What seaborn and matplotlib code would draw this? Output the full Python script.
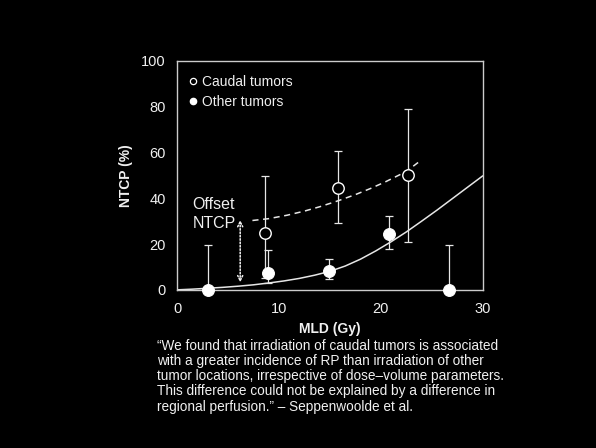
import numpy as np
import pandas as pd
import matplotlib
matplotlib.use("Agg")
import matplotlib.pyplot as plt
import seaborn as sns
from matplotlib.lines import Line2D

# ---- data ----
other_x = [3.0, 8.9, 14.9, 20.8, 26.7]
other_y = [0.0, 7.3, 8.2, 24.2, 0.0]
other_lo = [0.0, 2.9, 4.6, 17.7, 0.0]
other_hi = [19.8, 17.2, 13.6, 32.4, 19.8]

caudal_x = [8.6, 15.8, 22.7]
caudal_y = [24.8, 44.5, 50.0]
caudal_lo = [5.0, 29.3, 21.0]
caudal_hi = [49.8, 60.7, 79.0]

fit_other_x = [0, 1.5, 3, 4.5, 6, 7.5, 9, 10.5, 12, 13.5, 15, 16.5, 18, 19.5, 21, 22.5, 24, 25.5, 27, 28.5, 30]
fit_other_y = [0.0, 0.3, 0.7, 1.1, 1.6, 2.2, 3.0, 3.9, 5.0, 6.4, 8.1, 10.4, 13.4, 17.0, 21.0, 25.3, 30.0, 34.8, 39.8, 44.8, 49.8]

fit_caudal_x = [7.4, 9, 10.8, 12.5, 14, 15.8, 17.5, 19, 20.5, 22, 22.7, 24]
fit_caudal_y = [30.3, 31.1, 32.6, 34.4, 36.3, 38.9, 41.6, 44.3, 47.3, 50.6, 52.4, 56.8]

x_ticks = [0, 10, 20, 30]
y_ticks = [0, 20, 40, 60, 80, 100]

quote = ("\u201cWe found that irradiation of caudal tumors is associated\n"
         "with a greater incidence of RP than irradiation of other\n"
         "tumor locations, irrespective of dose\u2013volume parameters.\n"
         "This difference could not be explained by a difference in\n"
         "regional perfusion.\u201d \u2013 Seppenwoolde et al.")

# ---- style ----
sns.set_style("dark")
plt.rcParams['font.family'] = ['Liberation Sans', 'DejaVu Sans']
fg = "#f0f0f0"
line_c = "#e6e6e6"

fig = plt.figure(figsize=(5.96, 4.48), dpi=100, facecolor="black")
ax = fig.add_axes([0.297, 0.353, 0.513, 0.511])
ax.set_facecolor("black")

df_fit_o = pd.DataFrame({"x": fit_other_x, "y": fit_other_y})
df_fit_c = pd.DataFrame({"x": fit_caudal_x, "y": fit_caudal_y})
sns.lineplot(data=df_fit_o, x="x", y="y", ax=ax, color=line_c, lw=1.1, zorder=2)
sns.lineplot(data=df_fit_c, x="x", y="y", ax=ax, color=line_c, lw=1.1,
             linestyle=(0, (4, 3)), zorder=2)

# error bars
oy = np.array(other_y)
ax.errorbar(other_x, other_y,
            yerr=[oy - np.array(other_lo), np.array(other_hi) - oy],
            fmt="none", ecolor=line_c, elinewidth=0.9, capsize=3, capthick=0.9, zorder=3)
cy = np.array(caudal_y)
ax.errorbar(caudal_x, caudal_y,
            yerr=[cy - np.array(caudal_lo), np.array(caudal_hi) - cy],
            fmt="none", ecolor=line_c, elinewidth=0.9, capsize=3, capthick=0.9, zorder=3)

df_o = pd.DataFrame({"x": other_x, "y": other_y})
df_c = pd.DataFrame({"x": caudal_x, "y": caudal_y})
sns.scatterplot(data=df_o, x="x", y="y", ax=ax, s=72, color="white",
                edgecolor="white", linewidth=0.8, zorder=5, clip_on=False)
sns.scatterplot(data=df_c, x="x", y="y", ax=ax, s=68, facecolor="black",
                edgecolor="white", linewidth=1.0, zorder=5, clip_on=False)

# offset arrow
ax.annotate("", xy=(6.2, 30.5), xytext=(6.2, 3.3),
            arrowprops=dict(arrowstyle="<->", color=fg, lw=1.1, linestyle=(0, (1, 1.2)),
                            shrinkA=0, shrinkB=0, mutation_scale=9))
ax.text(1.5, 37.2, "Offset", color=fg, fontsize=11.5, va="center", ha="left")
ax.text(1.5, 29.0, "NTCP", color=fg, fontsize=11.5, va="center", ha="left")

# legend
handles = [Line2D([], [], marker="o", ls="none", mfc="black", mec="white", ms=4.5, mew=0.9),
           Line2D([], [], marker="o", ls="none", mfc="white", mec="white", ms=4.5)]
leg = ax.legend(handles, ["Caudal tumors", "Other tumors"], loc="upper left",
                bbox_to_anchor=(-0.013, 0.997),
                frameon=False, fontsize=10, handletextpad=0.1, handlelength=1.0,
                borderaxespad=0.55, labelspacing=0.45, labelcolor=fg)

ax.set_xlim(0, 30)
ax.set_ylim(0, 100)
ax.set_xticks(x_ticks)
ax.set_yticks(y_ticks)
ax.set_xticklabels([str(v) for v in x_ticks])
ax.set_yticklabels([str(v) for v in y_ticks])
ax.tick_params(direction="in", length=3, color="#555555", labelcolor=fg,
               labelsize=10.5, pad=9)
ax.tick_params(axis="y", pad=8)
ax.grid(False)
for s in ax.spines.values():
    s.set_visible(True)
    s.set_color("#cccccc")
    s.set_linewidth(1.0)

ax.set_xlabel("MLD (Gy)", color=fg, fontsize=10, fontweight="bold", labelpad=4)
ax.set_ylabel("NTCP (%)", color=fg, fontsize=10, fontweight="bold", labelpad=6)

fig.text(157 / 596, 1 - 338.5 / 448, quote, color=fg, fontsize=9.8, va="top", ha="left",
         linespacing=1.12)

fig.savefig("out.png", dpi=100, facecolor="black")
